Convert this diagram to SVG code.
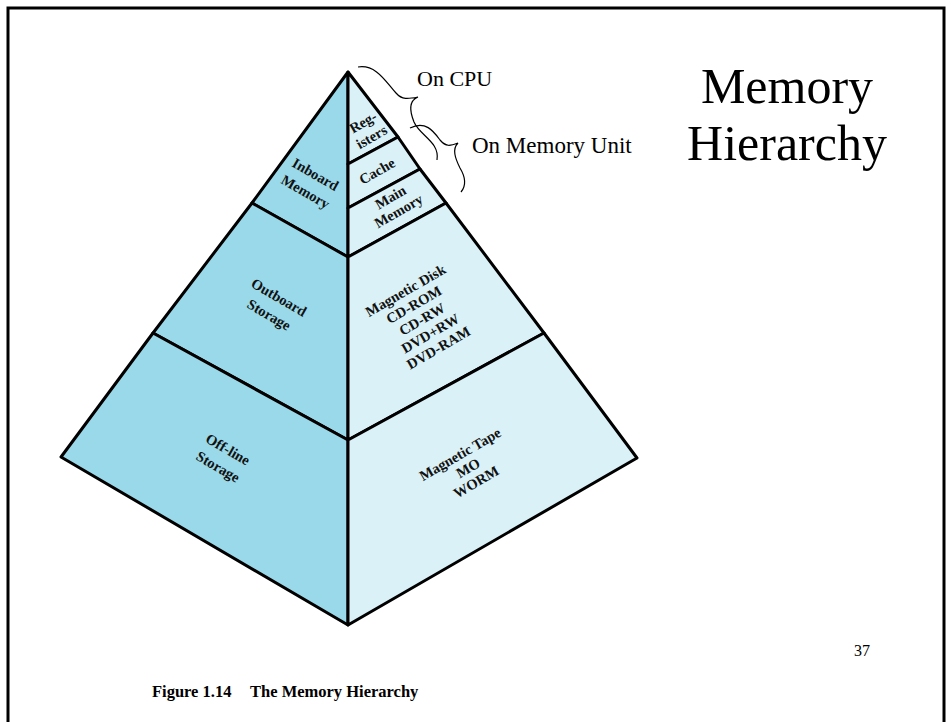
<svg xmlns="http://www.w3.org/2000/svg" width="952" height="722" viewBox="0 0 952 722">
<style>
.l{fill:#99d9ea;stroke:#000;stroke-width:3;stroke-linejoin:round}
.r{fill:#daf1f8;stroke:#000;stroke-width:3;stroke-linejoin:round}
.t{font-family:"Liberation Serif",serif;font-weight:bold;font-size:14.5px;text-anchor:middle;fill:#111}
.s{font-family:"Liberation Serif",serif;fill:#000}
.b{fill:none;stroke:#000;stroke-width:1.2}
</style>
<rect x="8" y="8" width="936" height="730" fill="#fff" stroke="#000" stroke-width="3"/>
<g id="inboard"><polygon class="l" points="348,72 252,203 348,257"/>
<text class="t" transform="translate(310.5,183) rotate(30)"><tspan x="0" y="-5">Inboard</tspan><tspan x="0" y="15">Memory</tspan></text></g>
<g id="outboard"><polygon class="l" points="252,203 153,333 348,440 348,257"/>
<text class="t" transform="translate(274,306) rotate(30)"><tspan x="0" y="-5">Outboard</tspan><tspan x="0" y="15">Storage</tspan></text></g>
<g id="offline"><polygon class="l" points="153,333 61,457 348,625 348,440"/>
<text class="t" transform="translate(223,458) rotate(30)"><tspan x="0" y="-5">Off-line</tspan><tspan x="0" y="15">Storage</tspan></text></g>
<g id="registers"><polygon class="r" points="348,72 398,137 348,164"/>
<text class="t" font-size="13.5" transform="translate(367.5,130) rotate(-30)"><tspan x="0" y="-4">Reg-</tspan><tspan x="0" y="13">isters</tspan></text></g>
<g id="cache"><polygon class="r" points="348,164 398,137 420,169 348,208"/>
<text class="t" transform="translate(377,171) rotate(-30)"><tspan x="0" y="5">Cache</tspan></text></g>
<g id="main"><polygon class="r" points="348,208 420,169 446,203 348,257"/>
<text class="t" transform="translate(394.5,204) rotate(-30)"><tspan x="0" y="-3">Main</tspan><tspan x="0" y="13">Memory</tspan></text></g>
<g id="disk"><polygon class="r" points="348,257 446,203 544,333 348,440"/>
<text class="t" transform="translate(422,319) rotate(-30)"><tspan x="0" y="-28">Magnetic Disk</tspan><tspan x="0" y="-11.5">CD-ROM</tspan><tspan x="0" y="5">CD-RW</tspan><tspan x="0" y="21.5">DVD+RW</tspan><tspan x="0" y="38">DVD-RAM</tspan></text></g>
<g id="tape"><polygon class="r" points="348,440 544,333 637,458 348,625"/>
<text class="t" transform="translate(468,468) rotate(-30)"><tspan x="0" y="-11">Magnetic Tape</tspan><tspan x="0" y="5">MO</tspan><tspan x="0" y="21">WORM</tspan></text></g>
<g id="connectors">
<path class="b" d="M358,67 C376,64 386,82 396,93 C402,100 408,99 418,97 M418,97 C408,101 410,112 414,122 C420,136 440,142 437,160"/>
<path class="b" d="M410,128 C426,120 434,132 440,140 C446,147 450,146 458,143 M458,143 C452,149 455,158 460,168 C466,178 466,186 461,192"/>
</g>
<g id="labels">
<text class="s" x="417" y="86" font-size="22">On CPU</text>
<text class="s" x="472" y="153" font-size="23">On Memory Unit</text>
<text class="s" x="787" y="103" font-size="50" text-anchor="middle">Memory</text>
<text class="s" x="787" y="160" font-size="50" text-anchor="middle">Hierarchy</text>
<text class="s" x="862" y="656" font-size="16" text-anchor="middle">37</text>
<text class="s" x="152" y="697" font-size="16.5" font-weight="bold">Figure 1.14</text>
<text class="s" x="250" y="697" font-size="16.5" font-weight="bold">The Memory Hierarchy</text>
</g>
</svg>
